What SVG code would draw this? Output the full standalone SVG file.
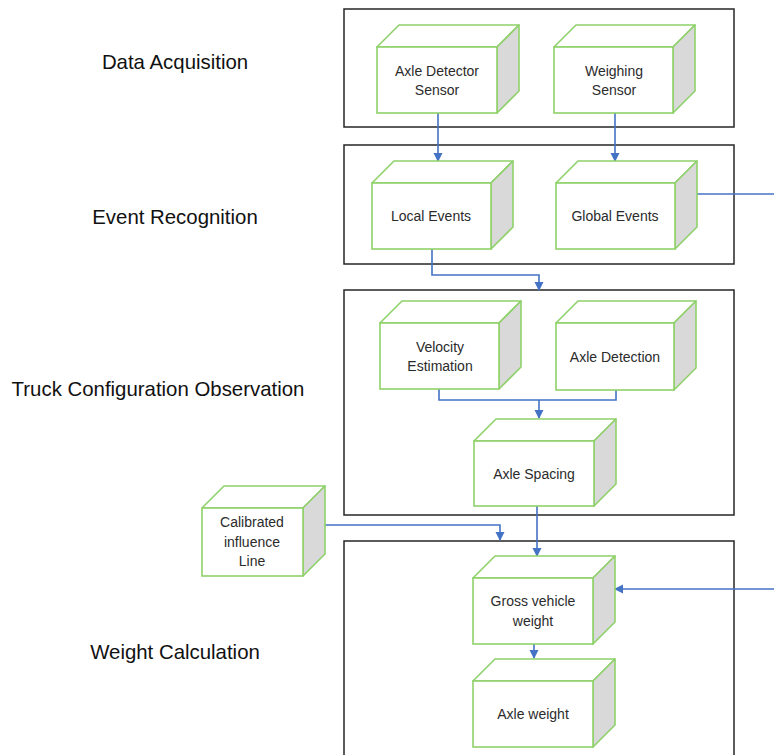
<svg xmlns="http://www.w3.org/2000/svg" width="774" height="755" viewBox="0 0 774 755">
<style>
.stage{fill:#fff;stroke:#262626;stroke-width:1.5}
.front{fill:#fff;stroke:#8fd16a;stroke-width:1.6}
.top{fill:#fff;stroke:#8fd16a;stroke-width:1.6;stroke-linejoin:round}
.side{fill:#d9d9d9;stroke:#8fd16a;stroke-width:1.6;stroke-linejoin:round}
.lbl{font-family:"Liberation Sans",Arial,sans-serif;font-size:20.4px;fill:#111;text-anchor:middle}
.nt{font-family:"Liberation Sans",Arial,sans-serif;font-size:14px;fill:#2b2b2b;text-anchor:middle}
.con{fill:none;stroke:#4472c4;stroke-width:1.6}
</style>
<defs>
<marker id="ah" markerUnits="userSpaceOnUse" markerWidth="10" markerHeight="10" refX="8" refY="4.5" orient="auto">
<path d="M0,0 L9,4.5 L0,9 Z" fill="#4472c4"/>
</marker>
</defs>
<rect width="774" height="755" fill="#fff"/>
<g id="stages">
<rect class="stage" x="344" y="9" width="390" height="118"/>
<rect class="stage" x="344" y="145" width="390" height="119"/>
<rect class="stage" x="344" y="290" width="390" height="225"/>
<rect class="stage" x="344" y="541" width="390" height="230"/>
</g>
<g id="labels">
<text class="lbl" x="175" y="69">Data Acquisition</text>
<text class="lbl" x="175" y="224">Event Recognition</text>
<text class="lbl" x="158" y="396">Truck Configuration Observation</text>
<text class="lbl" x="175" y="659">Weight Calculation</text>
</g>
<g id="connectors">
<path class="con" d="M438,113 V161" marker-end="url(#ah)"/>
<path class="con" d="M615,113 V161" marker-end="url(#ah)"/>
<path class="con" d="M432,249 V275 H539 V290" marker-end="url(#ah)"/>
<path class="con" d="M697,194 H774"/>
<path class="con" d="M439,389 V400 H616 V390"/>
<path class="con" d="M539,400 V418" marker-end="url(#ah)"/>
<path class="con" d="M537,506 V556" marker-end="url(#ah)"/>
<path class="con" d="M325,525 H500 V540" marker-end="url(#ah)"/>
<path class="con" d="M534,644 V658" marker-end="url(#ah)"/>
<path class="con" d="M774,589 H615" marker-end="url(#ah)"/>
</g>
<g id="n-axle-detector-sensor">
<polygon class="top" points="377,47 399,25 519,25 497,47"/>
<polygon class="side" points="497,47 519,25 519,91 497,113"/>
<rect class="front" x="377" y="47" width="120" height="66"/>
<text class="nt" x="437" y="76">Axle Detector</text>
<text class="nt" x="437" y="95">Sensor</text>
</g>
<g id="n-weighing-sensor">
<polygon class="top" points="554,47 576,25 695,25 673,47"/>
<polygon class="side" points="673,47 695,25 695,91 673,113"/>
<rect class="front" x="554" y="47" width="119" height="66"/>
<text class="nt" x="614" y="76">Weighing</text>
<text class="nt" x="614" y="95">Sensor</text>
</g>
<g id="n-local-events">
<polygon class="top" points="372,183 394,161 513,161 491,183"/>
<polygon class="side" points="491,183 513,161 513,227 491,249"/>
<rect class="front" x="372" y="183" width="119" height="66"/>
<text class="nt" x="431" y="221">Local Events</text>
</g>
<g id="n-global-events">
<polygon class="top" points="556,183 578,161 697,161 675,183"/>
<polygon class="side" points="675,183 697,161 697,227 675,249"/>
<rect class="front" x="556" y="183" width="119" height="66"/>
<text class="nt" x="615" y="221">Global Events</text>
</g>
<g id="n-velocity-estimation">
<polygon class="top" points="380,323 402,301 521,301 499,323"/>
<polygon class="side" points="499,323 521,301 521,367 499,389"/>
<rect class="front" x="380" y="323" width="119" height="66"/>
<text class="nt" x="440" y="352">Velocity</text>
<text class="nt" x="440" y="371">Estimation</text>
</g>
<g id="n-axle-detection">
<polygon class="top" points="556,323 578,301 696,301 674,323"/>
<polygon class="side" points="674,323 696,301 696,368 674,390"/>
<rect class="front" x="556" y="323" width="118" height="67"/>
<text class="nt" x="615" y="362">Axle Detection</text>
</g>
<g id="n-axle-spacing">
<polygon class="top" points="474,441 496,419 616,419 594,441"/>
<polygon class="side" points="594,441 616,419 616,484 594,506"/>
<rect class="front" x="474" y="441" width="120" height="65"/>
<text class="nt" x="534" y="479">Axle Spacing</text>
</g>
<g id="n-calibrated-influence-line">
<polygon class="top" points="202,508 224,486 325,486 303,508"/>
<polygon class="side" points="303,508 325,486 325,554 303,576"/>
<rect class="front" x="202" y="508" width="101" height="68"/>
<text class="nt" x="252" y="527">Calibrated</text>
<text class="nt" x="252" y="547">influence</text>
<text class="nt" x="252" y="566">Line</text>
</g>
<g id="n-gross-vehicle-weight">
<polygon class="top" points="473,578 495,556 615,556 593,578"/>
<polygon class="side" points="593,578 615,556 615,622 593,644"/>
<rect class="front" x="473" y="578" width="120" height="66"/>
<text class="nt" x="533" y="606">Gross vehicle</text>
<text class="nt" x="533" y="626">weight</text>
</g>
<g id="n-axle-weight">
<polygon class="top" points="473,681 495,659 615,659 593,681"/>
<polygon class="side" points="593,681 615,659 615,725 593,747"/>
<rect class="front" x="473" y="681" width="120" height="66"/>
<text class="nt" x="533" y="719">Axle weight</text>
</g>
</svg>
